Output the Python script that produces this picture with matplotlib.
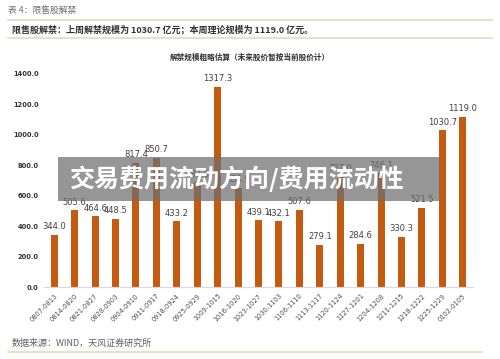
import matplotlib

matplotlib.use("Agg")
import matplotlib.pyplot as plt
from matplotlib.patches import Rectangle

plt.rcParams["font.family"] = ["Noto Sans CJK SC", "DejaVu Sans"]

weeks = [
    "0807-0813", "0814-0820", "0821-0827", "0828-0903", "0904-0910",
    "0911-0917", "0918-0924", "0925-0929", "1009-1015", "1016-1020",
    "1023-1027", "1030-1103", "1106-1110", "1113-1117", "1120-1124",
    "1127-1201", "1204-1208", "1211-1215", "1218-1222", "1225-1229",
    "0102-0105",
]
unlock_value = [
    344.0, 505.6, 464.6, 448.5, 817.4,
    850.7, 433.2, 687.0, 1317.3, 653.9,
    439.1, 432.1, 507.6, 279.1, 727.0,
    284.6, 746.1, 330.3, 521.5, 1030.7,
    1119.0,
]
y_ticks = [0, 200, 400, 600, 800, 1000, 1200, 1400]

W, H = 500, 359
BAR = "#C55A11"
RULE = "#EAD9B8"

fig = plt.figure(figsize=(W / 100, H / 100), dpi=100)


def fx(px):
    return px / W


def fy(py):
    return 1 - py / H


# header
fig.text(fx(8), fy(10), "表 4：限售股解禁", fontsize=6.3, color="#707070", va="center")
fig.add_artist(plt.Line2D([fx(8), fx(492)], [fy(20), fy(20)], color=RULE, lw=1.2))
fig.text(fx(12), fy(29), "限售股解禁：上周解禁规模为 1030.7 亿元；本周理论规模为 1119.0 亿元。",
         fontsize=6.5, fontweight="bold", color="#303030", va="center")
fig.add_artist(plt.Line2D([fx(8), fx(492)], [fy(38), fy(38)], color=RULE, lw=1.2))
fig.text(fx(250), fy(57), "解禁规模粗略估算（未来股价暂按当前股价计）",
         fontsize=5.5, fontweight="bold", color="#303030", ha="center", va="center")

ax = fig.add_axes([fx(44), fy(287), fx(473) - fx(44), fy(74) - fy(287)])
xs = list(range(len(weeks)))
ax.bar(xs, unlock_value, width=0.34, color=BAR, zorder=2)
for x, v in zip(xs, unlock_value):
    ax.text(x, v + 22, f"{v:.1f}", ha="center", va="bottom", fontsize=6,
            color="#404040", family="DejaVu Sans")

ax.set_xlim(-0.5, len(weeks) - 0.5)
ax.set_ylim(0, 1400)
ax.set_yticks(y_ticks)
ax.set_yticklabels([f"{t:.1f}" for t in y_ticks], fontsize=4.8, fontweight="bold",
                   color="#303030", family="DejaVu Sans")
ax.set_xticks(xs)
ax.set_xticklabels(weeks, rotation=45, ha="right", rotation_mode="anchor",
                   fontsize=4.8, color="#505050", family="DejaVu Sans")
ax.tick_params(length=0, pad=4)
for side in ("top", "right", "left"):
    ax.spines[side].set_visible(False)
ax.spines["bottom"].set_color("#D9D9D9")
ax.spines["bottom"].set_linewidth(0.8)

# footer
fig.text(fx(12), fy(343), "数据来源：WIND，天风证券研究所", fontsize=6.5, color="#606060", va="center")
fig.add_artist(plt.Line2D([fx(8), fx(482)], [fy(352), fy(352)], color=RULE, lw=1.2))

# overlay banner
fig.add_artist(Rectangle((fx(58), fy(201)), fx(440) - fx(58), fy(157) - fy(201),
                         transform=fig.transFigure, facecolor="#6E6E6E", alpha=0.72,
                         edgecolor="none", zorder=5))
fig.text(fx(70), fy(179), "交易费用流动方向/费用流动性", fontsize=18, fontweight="bold",
         color="white", va="center", zorder=6)

fig.savefig("out.png", dpi=100)
